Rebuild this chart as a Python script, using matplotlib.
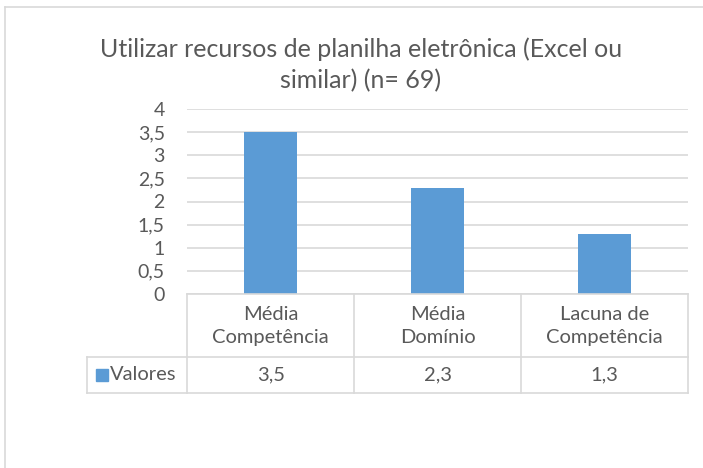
import matplotlib.pyplot as plt
from matplotlib.lines import Line2D

plt.rcParams['font.family'] = ['Lato', 'DejaVu Sans']

title = 'Utilizar recursos de planilha eletrônica (Excel ou\nsimilar) (n= 69)'
categories = ['Média\nCompetência', 'Média\nDomínio', 'Lacuna de\nCompetência']
valores = [3.5, 2.3, 1.3]
series_name = 'Valores'
yticks = [0, 0.5, 1, 1.5, 2, 2.5, 3, 3.5, 4]

bar_color = '#5B9BD5'
text_color = '#595959'
line_color = '#D9D9D9'

W, H = 703, 468
fig = plt.figure(figsize=(W / 100, H / 100), dpi=100)


def px_rect(x0, y0, x1, y1):
    # pixel box (top-left origin) -> figure fraction rect
    return [x0 / W, 1 - y1 / H, (x1 - x0) / W, (y1 - y0) / H]


# outer chart border (only left and top visible)
fig.add_artist(Line2D([4.5 / W, 4.5 / W], [0, 1 - 7 / H], color=line_color, lw=1.2))
fig.add_artist(Line2D([4.5 / W, 1], [1 - 7 / H, 1 - 7 / H], color=line_color, lw=1.2))

fig.text(361 / W, 1 - 65 / H, title, ha='center', va='center', fontsize=18,
         color=text_color, linespacing=1.45)

# bar plot area
ax = fig.add_axes(px_rect(187, 109, 688, 294))
x = range(len(categories))
ax.bar(x, valores, width=0.32, color=bar_color, zorder=3)
ax.set_xlim(-0.5, len(categories) - 0.5)
ax.set_ylim(0, 4)
ax.set_yticks(yticks)
ax.set_yticklabels([('%g' % v).replace('.', ',') for v in yticks])
ax.tick_params(axis='y', length=0, pad=16, labelsize=14, labelcolor=text_color)
ax.set_xticks([])
ax.grid(axis='y', color=line_color, lw=1.2, zorder=0)
for s in ['top', 'right', 'left']:
    ax.spines[s].set_visible(False)
ax.spines['bottom'].set_color(line_color)
ax.spines['bottom'].set_linewidth(1.2)
ax.spines['bottom'].set_zorder(4)

# data table below the axis
tab = fig.add_axes(px_rect(87, 294, 688, 393))
tab.set_xlim(-1.1, len(categories) - 0.5)
tab.set_ylim(99, 0)
tab.axis('off')
lk = dict(color=line_color, lw=1.2, clip_on=False)
for i in range(len(categories) + 1):
    tab.plot([i - 0.5, i - 0.5], [0, 99], **lk)
tab.plot([-1.1, -1.1], [63, 99], **lk)
tab.plot([-1.1, len(categories) - 0.5], [63, 63], **lk)
tab.plot([-1.1, len(categories) - 0.5], [99, 99], **lk)
for i, (c, v) in enumerate(zip(categories, valores)):
    tab.text(i, 32, c, ha='center', va='center', fontsize=14.5, color=text_color,
             linespacing=1.45)
    tab.text(i, 81, ('%g' % v).replace('.', ','), ha='center', va='center',
             fontsize=14.5, color=text_color)
tab.plot([-1.01], [81], marker='s', ms=8, color=bar_color, clip_on=False)
tab.text(-0.96, 81, series_name, ha='left', va='center', fontsize=14.5, color=text_color)

fig.savefig('out.png', dpi=100)
